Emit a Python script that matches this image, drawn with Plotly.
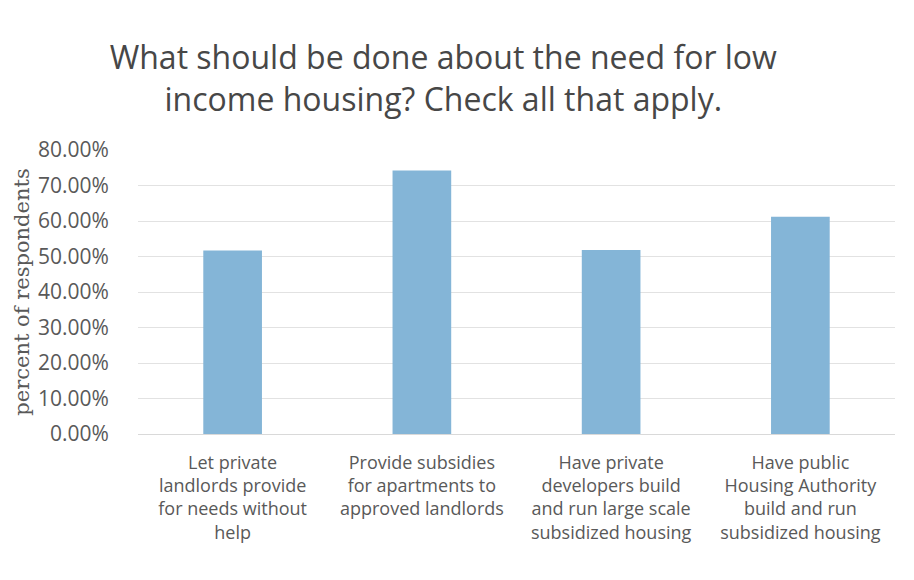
import plotly.graph_objects as go

# Survey responses: share of respondents choosing each option
categories = [
    "Let private<br>landlords provide<br>for needs without<br>help",
    "Provide subsidies<br>for apartments to<br>approved landlords<br> ",
    "Have private<br>developers build<br>and run large scale<br>subsidized housing",
    "Have public<br>Housing Authority<br>build and run<br>subsidized housing",
]
shares = [0.517, 0.742, 0.518, 0.612]
tick_values = [0.0, 0.1, 0.2, 0.3, 0.4, 0.5, 0.6, 0.7, 0.8]

fig = go.Figure(
    go.Bar(
        x=categories,
        y=shares,
        marker=dict(color="#84B5D7", line=dict(width=0)),
        hoverinfo="skip",
    )
)

fig.update_layout(
    width=914,
    height=580,
    paper_bgcolor="white",
    plot_bgcolor="white",
    margin=dict(l=138, r=19, t=150, b=146),
    bargap=0.69,
    showlegend=False,
    font=dict(family="Open Sans", color="#595959"),
    title=dict(
        text="What should be done about the need for low<br>income housing? Check all that apply.",
        x=0.485,
        xanchor="center",
        y=1 - 69 / 580,
        yanchor="top",
        yref="container",
        font=dict(family="Open Sans", size=32, color="#474747"),
    ),
)

fig.update_yaxes(
    range=[0, 0.8],
    tickvals=tick_values,
    tickformat=".2%",
    showgrid=True,
    gridcolor="#e2e2e2",
    gridwidth=1,
    zeroline=False,
    showline=False,
    ticks="outside",
    ticklen=24,
    tickcolor="rgba(0,0,0,0)",
    tickfont=dict(family="Open Sans", size=21, color="#595959"),
    title=dict(
        text="percent of respondents",
        font=dict(family="DejaVu Serif", size=21, color="#595959"),
        standoff=2,
    ),
)

fig.update_xaxes(
    showline=True,
    linecolor="#d9d9d9",
    linewidth=1,
    ticks="outside",
    ticklen=12,
    tickcolor="rgba(0,0,0,0)",
    tickfont=dict(family="Open Sans", size=18, color="#595959"),
)

fig.write_html("out.html")
